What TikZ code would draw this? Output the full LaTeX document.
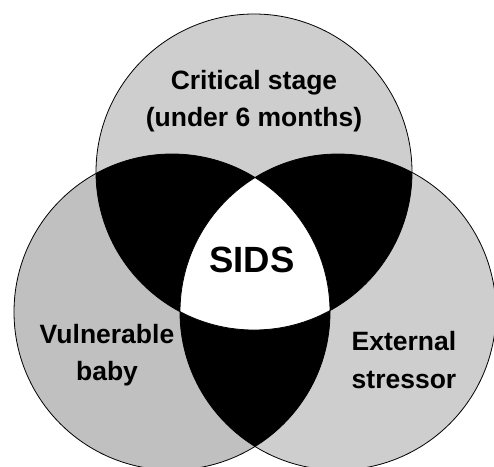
\documentclass[tikz,border=0pt]{standalone}
\usepackage{fontspec}
\setmainfont{Liberation Sans}
\definecolor{graytop}{HTML}{CECECE}
\definecolor{grayleft}{HTML}{C0C0C0}
\begin{document}
\begin{tikzpicture}[x=1pt,y=-1pt,
  lbl/.style={font=\bfseries\fontsize{26.5}{37.5}\selectfont, align=center, text=black, inner sep=0pt},
  outline/.style={draw=black, line width=0.8pt}]
\useasboundingbox (0,0) rectangle (494,466);
\def\R{158}
\coordinate (T) at (254,172);
\coordinate (L) at (172,312);
\coordinate (Rr) at (338,312);
% base fills
\fill[graytop] (T) circle (\R);
\fill[graytop] (Rr) circle (\R);
\fill[grayleft] (L) circle (\R);
% pairwise intersections black
\begin{scope}\clip (T) circle (\R); \fill[black] (L) circle (\R); \end{scope}
\begin{scope}\clip (T) circle (\R); \fill[black] (Rr) circle (\R); \end{scope}
\begin{scope}\clip (L) circle (\R); \fill[black] (Rr) circle (\R); \end{scope}
% triple intersection white
\begin{scope}\clip (T) circle (\R); \clip (L) circle (\R); \fill[white] (Rr) circle (\R); \end{scope}
% outlines
\draw[outline] (T) circle (\R);
\draw[outline] (L) circle (\R);
\draw[outline] (Rr) circle (\R);
% labels
\node[lbl] (crit) at (254,101) {Critical stage\\(under 6 months)};
\node[lbl] (vul) at (107,355) {Vulnerable\\baby};
\node[lbl] (ext) at (404,360) {External\\stressor};
\node[font=\bfseries\fontsize{36.5}{40}\selectfont, inner sep=0pt] (sids) at (252,260) {SIDS};
\end{tikzpicture}
\end{document}
